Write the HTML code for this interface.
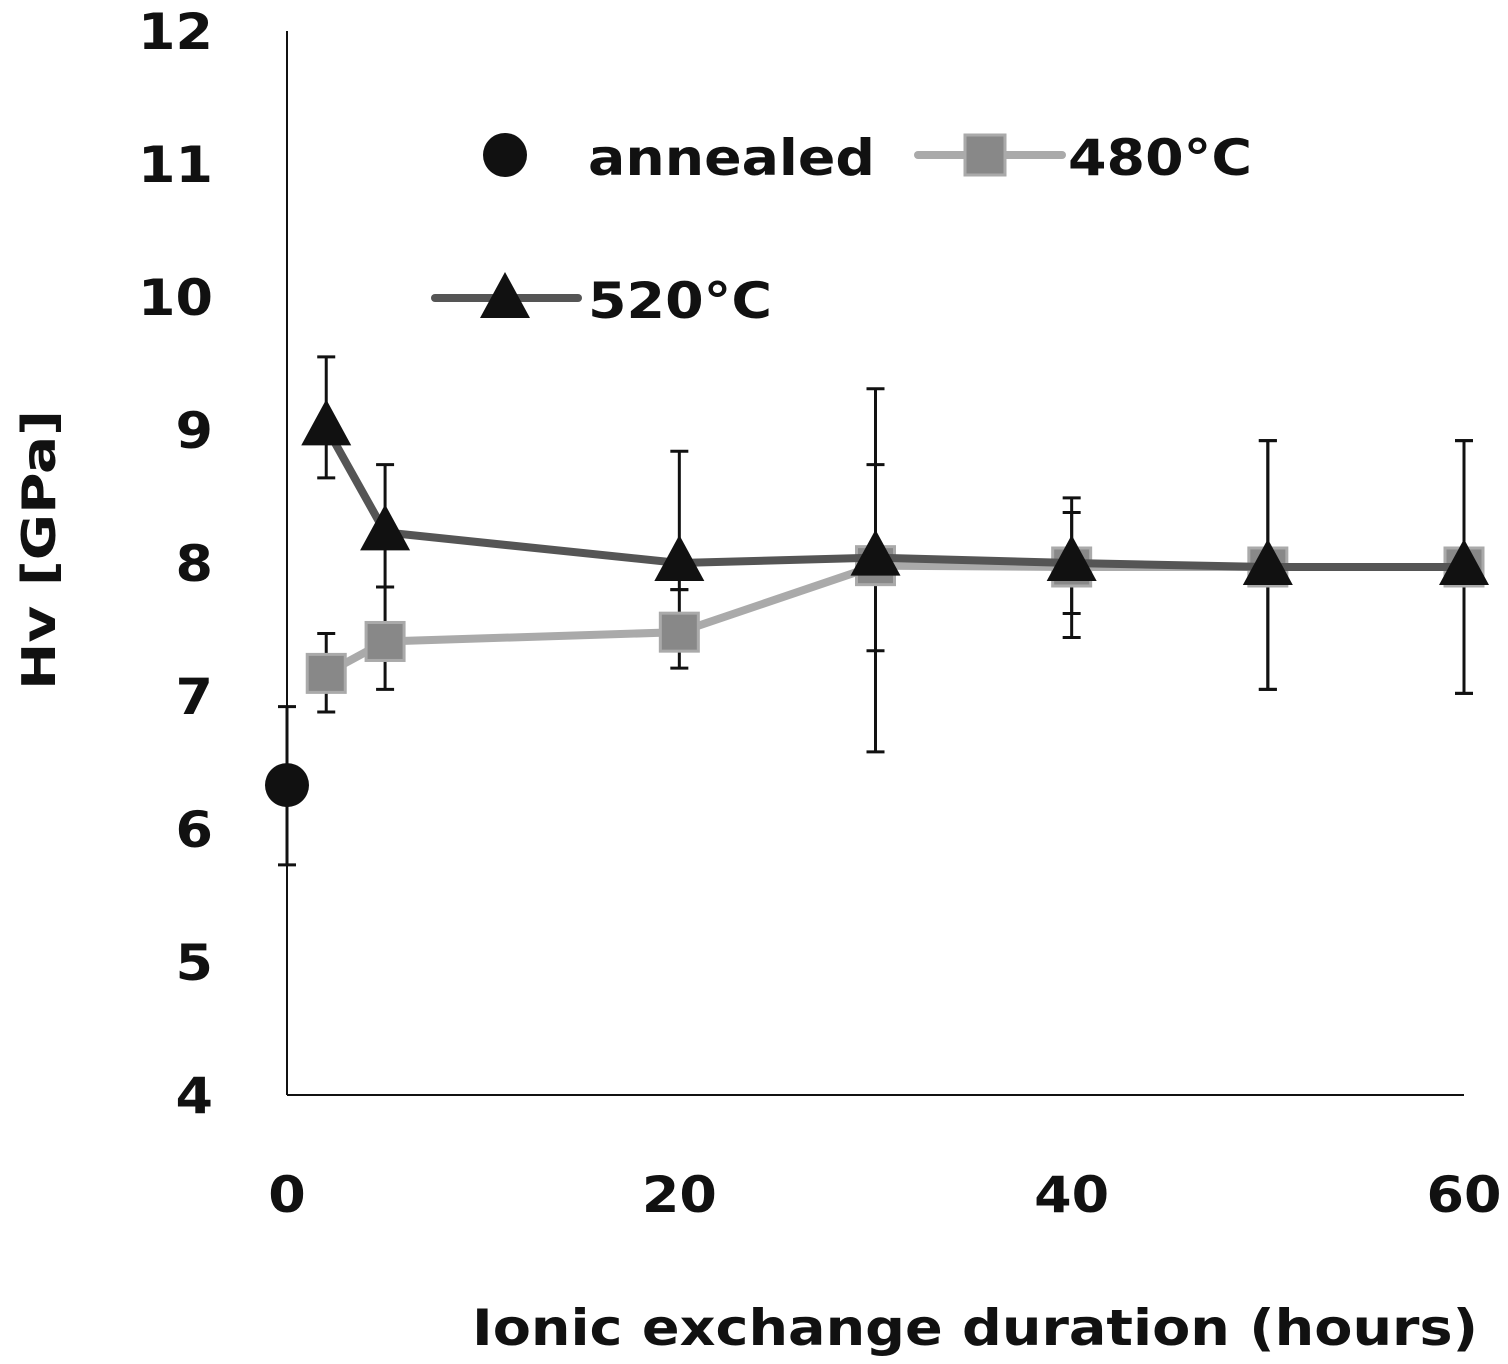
<!DOCTYPE html>
<html><head><meta charset="utf-8"><style>
body{margin:0;background:#fff}
svg{display:block}
text{font-family:"DejaVu Sans","Liberation Sans",sans-serif;font-weight:bold;fill:#111}
</style></head><body>
<svg width="1508" height="1364" viewBox="0 0 1508 1364">
<g id="axes"></g>
<g id="series"></g>
<g id="legend">
  <circle cx="505" cy="155" r="22" fill="#111"/>
  <text x="588" y="175" font-size="50" textLength="287" lengthAdjust="spacingAndGlyphs">annealed</text>
  <line x1="918" y1="155" x2="1062" y2="155" stroke="#aaa" stroke-width="8" stroke-linecap="round"/>
  <rect x="965" y="135" width="40" height="40" fill="#888" stroke="#aaa" stroke-width="3"/>
  <text x="1068" y="175" font-size="50" textLength="184" lengthAdjust="spacingAndGlyphs">480°C</text>
  <line x1="435" y1="298" x2="578" y2="298" stroke="#555" stroke-width="8" stroke-linecap="round"/>
  <polygon points="505,272 530,318 480,318" fill="#111"/>
  <text x="588" y="318" font-size="50" textLength="184" lengthAdjust="spacingAndGlyphs">520°C</text>
</g>
<text x="472" y="1345" font-size="50" textLength="1006" lengthAdjust="spacingAndGlyphs">Ionic exchange duration (hours)</text>
<text transform="translate(55,690) rotate(-90)" font-size="46" textLength="280" lengthAdjust="spacingAndGlyphs">Hv [GPa]</text>
</svg>
<script>
const yTicks=[4,5,6,7,8,9,10,11,12];
const xTicks=[0,20,40,60];
const annealedX=[0], annealedY=[6.33], annealedHi=[6.92], annealedLo=[5.73];
const x480=[2,5,20,30,40,50,60];
const y480=[7.17,7.41,7.48,7.98,7.97,7.97,7.97];
const hi480=[7.47,7.82,7.8,8.74,8.38,8.92,8.92];
const lo480=[6.88,7.05,7.21,7.34,7.62,7.05,7.02];
const x520=[2,5,20,30,40,50,60];
const y520=[9.02,8.23,8.0,8.04,8.0,7.97,7.97];
const hi520=[9.55,8.74,8.84,9.31,8.49,8.92,8.92];
const lo520=[8.64,7.82,7.8,6.58,7.44,7.05,7.02];
const X=v=>287+v*(1464-287)/60;
const Y=v=>1095-(v-4)*133;
const NS="http://www.w3.org/2000/svg";
function mk(tag,attrs,parent){const e=document.createElementNS(NS,tag);for(const k in attrs)e.setAttribute(k,attrs[k]);parent.appendChild(e);return e;}
const axes=document.getElementById('axes'), ser=document.getElementById('series');
let el=mk('line',{x1:287,y1:Y(12),x2:287,y2:Y(4),stroke:'#111','stroke-width':2},axes);


el=mk('line',{x1:287,y1:Y(4),x2:X(60),y2:Y(4),stroke:'#111','stroke-width':2},axes);


yTicks.forEach(t=>{const s=String(t);const e=mk('text',{x:213-s.length*37.5,y:Y(t)+18,'font-size':50,textLength:s.length*37.5,lengthAdjust:'spacingAndGlyphs'},axes);e.textContent=s;

});
xTicks.forEach(t=>{const s=String(t);const w=s.length*37.5;const e=mk('text',{x:X(t)-w/2,y:1212,'font-size':50,textLength:w,lengthAdjust:'spacingAndGlyphs'},axes);e.textContent=s;

});
function errs(xs,hi,lo,name){xs.forEach((x,i)=>{const g=mk('g',{stroke:'#111','stroke-width':3},ser);


mk('line',{x1:X(x),x2:X(x),y1:Y(hi[i]),y2:Y(lo[i])},g);
mk('line',{x1:X(x)-9,x2:X(x)+9,y1:Y(hi[i]),y2:Y(hi[i])},g);
mk('line',{x1:X(x)-9,x2:X(x)+9,y1:Y(lo[i]),y2:Y(lo[i])},g);});}
errs(annealedX,annealedHi,annealedLo,'annealed');
errs(x480,hi480,lo480,'series-480');
errs(x520,hi520,lo520,'series-520');
el=mk('polyline',{points:x480.map((x,i)=>X(x)+','+Y(y480[i])).join(' '),fill:'none',stroke:'#aaa','stroke-width':8},ser);


x480.forEach((x,i)=>{const e=mk('rect',{x:X(x)-19,y:Y(y480[i])-19,width:38,height:38,fill:'#888',stroke:'#aaa','stroke-width':3},ser);

});
el=mk('polyline',{points:x520.map((x,i)=>X(x)+','+Y(y520[i])).join(' '),fill:'none',stroke:'#555','stroke-width':8},ser);


x520.forEach((x,i)=>{const cx=X(x),cy=Y(y520[i]);const e=mk('polygon',{points:`${cx},${cy-28} ${cx+25},${cy+18} ${cx-25},${cy+18}`,fill:'#111'},ser);

});
annealedX.forEach((x,i)=>{const e=mk('circle',{cx:X(x),cy:Y(annealedY[i]),r:22,fill:'#111'},ser);

});
</script>
</body></html>
